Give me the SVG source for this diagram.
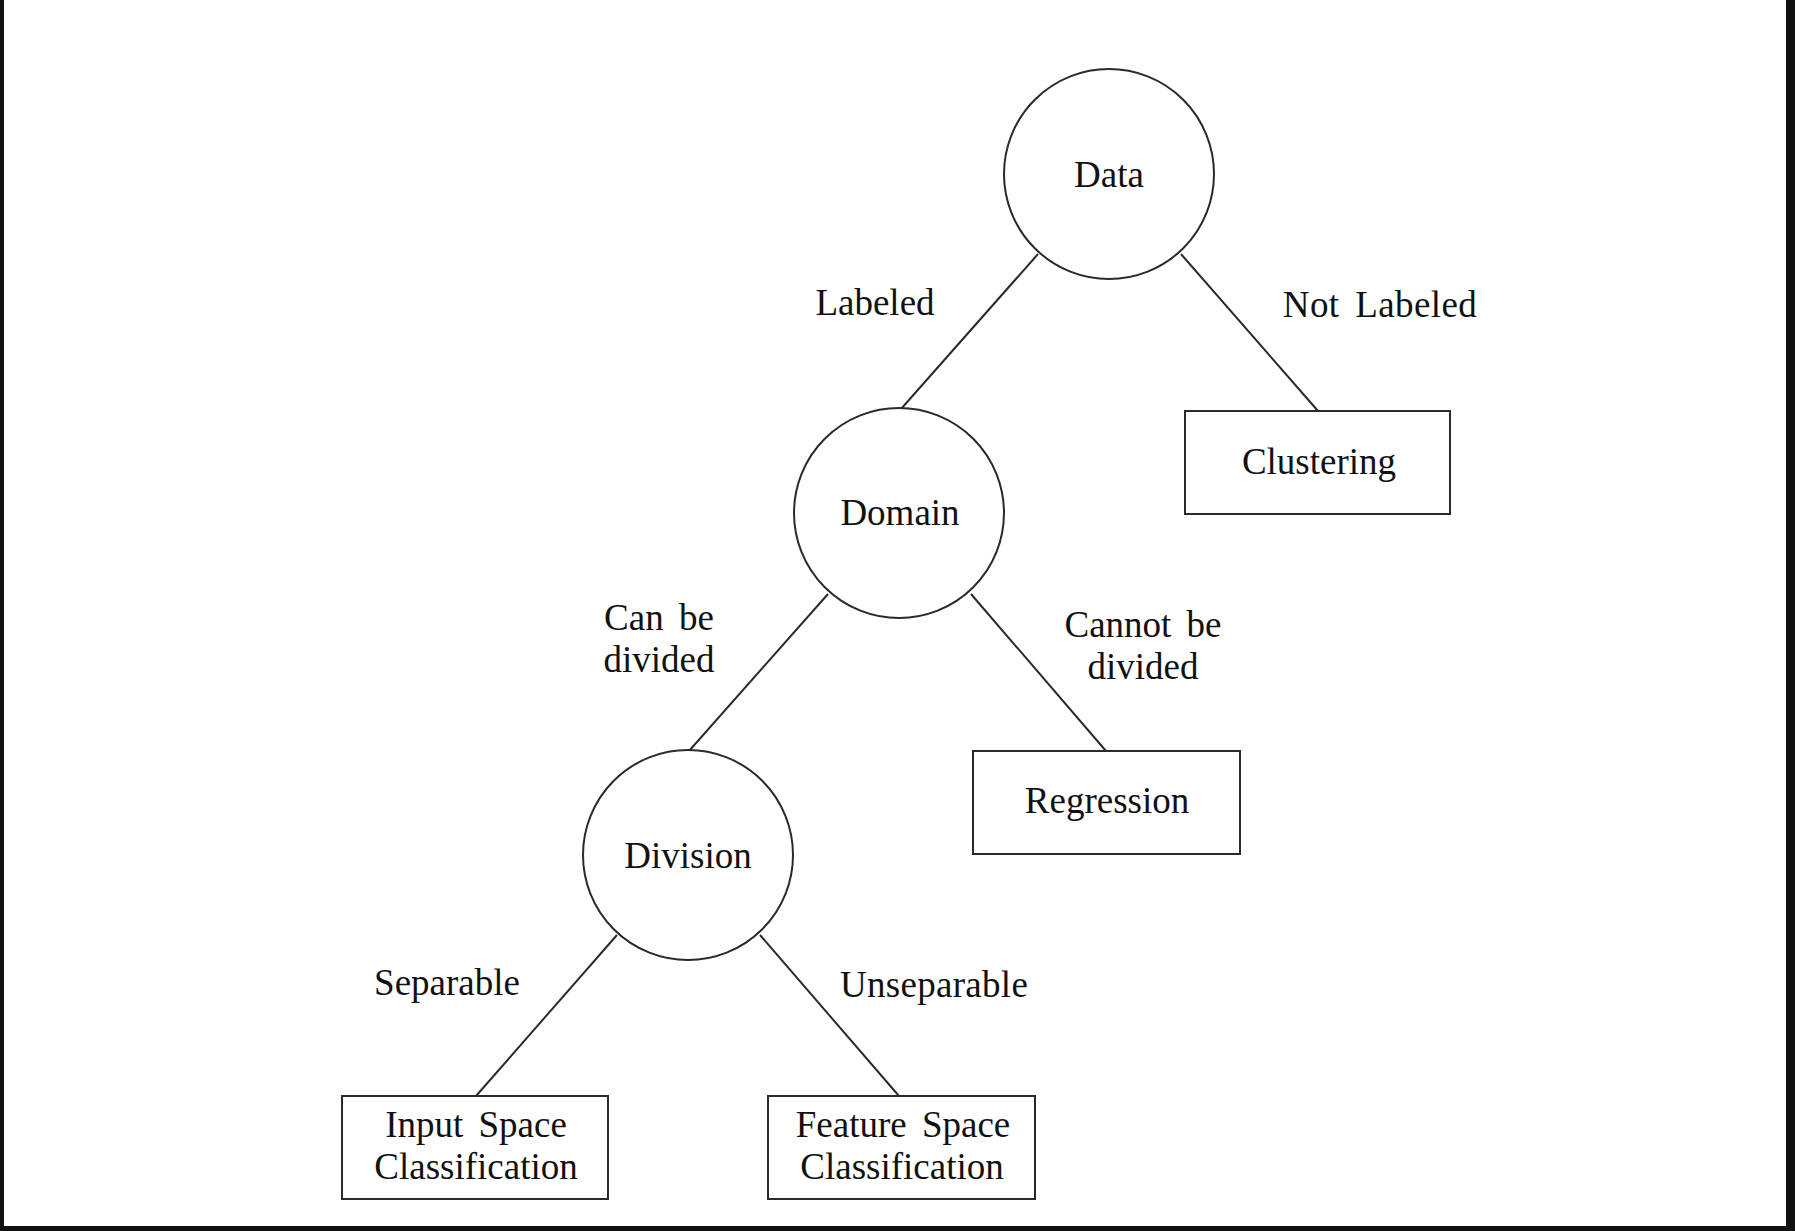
<svg xmlns="http://www.w3.org/2000/svg" width="1795" height="1231" viewBox="0 0 1795 1231">
<style>
.n{fill:#fff;stroke:#2a2a2a;stroke-width:2}
.e{stroke:#2a2a2a;stroke-width:2;fill:none}
text{font-family:"Liberation Serif","Times New Roman",serif;font-size:37px;fill:#111;text-anchor:middle;word-spacing:6px}
</style>
<rect x="0" y="0" width="1795" height="1231" fill="#fff"/>
<rect x="0" y="0" width="4" height="1231" fill="#111"/>
<rect x="1786" y="0" width="9" height="1231" fill="#111"/>
<rect x="0" y="1226" width="1795" height="5" fill="#111"/>
<g id="connectors">
<line class="e" x1="1038" y1="254" x2="901" y2="409"/>
<line class="e" x1="1181" y1="254" x2="1318" y2="411"/>
<line class="e" x1="828" y1="594" x2="689" y2="751"/>
<line class="e" x1="971" y1="594" x2="1106" y2="751"/>
<line class="e" x1="617" y1="935" x2="476" y2="1096"/>
<line class="e" x1="760" y1="935" x2="899" y2="1096"/>
</g>
<g id="labels">
<text x="875" y="315">Labeled</text>
<text x="1380" y="317" letter-spacing="0.4">Not Labeled</text>
<text x="659" y="630">Can be</text>
<text x="659" y="672">divided</text>
<text x="1143" y="637">Cannot be</text>
<text x="1143" y="679">divided</text>
<text x="447" y="995">Separable</text>
<text x="934" y="997" letter-spacing="0.3">Unseparable</text>
</g>
<g id="data"><circle class="n" cx="1109" cy="174" r="105"/><text x="1109" y="187">Data</text></g>
<g id="domain"><circle class="n" cx="899" cy="513" r="105"/><text x="900" y="525">Domain</text></g>
<g id="division"><circle class="n" cx="688" cy="855" r="105"/><text x="688" y="868">Division</text></g>
<g id="clustering"><rect class="n" x="1185" y="411" width="265" height="103"/><text x="1319" y="474">Clustering</text></g>
<g id="regression"><rect class="n" x="973" y="751" width="267" height="103"/><text x="1107" y="813">Regression</text></g>
<g id="input"><rect class="n" x="342" y="1096" width="266" height="103"/><text x="476" y="1137">Input Space</text><text x="476" y="1179">Classification</text></g>
<g id="feature"><rect class="n" x="768" y="1096" width="267" height="103"/><text x="903" y="1137">Feature Space</text><text x="902" y="1179">Classification</text></g>
</svg>
